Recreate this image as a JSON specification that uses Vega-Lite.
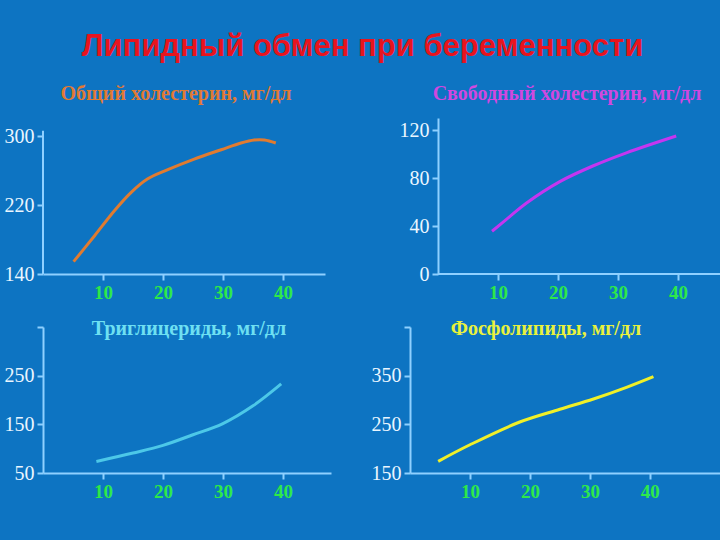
{
  "$schema": "https://vega.github.io/schema/vega-lite/v6.json",
  "background": "#0d74c2",
  "padding": {"left": 4, "top": 31, "right": 0, "bottom": 45},
  "title": {
    "text": "Липидный обмен при беременности",
    "font": "Liberation Sans",
    "fontSize": 31,
    "fontWeight": "bold",
    "color": "#e8141e",
    "anchor": "middle",
    "offset": 21
  },
  "datasets": {
    "total": [
      {"week": 5.1, "value": 154.3}, {"week": 8.6, "value": 184.4}, {"week": 11.9, "value": 213.4},
      {"week": 14.7, "value": 234.7}, {"week": 17.4, "value": 250.1}, {"week": 20.8, "value": 261},
      {"week": 25.2, "value": 273.3}, {"week": 29.7, "value": 284.1}, {"week": 33, "value": 291.9},
      {"week": 35.2, "value": 295.4}, {"week": 36.9, "value": 295.4}, {"week": 38.8, "value": 291.9}
    ],
    "free": [
      {"week": 9, "value": 35.6}, {"week": 12, "value": 48}, {"week": 14.7, "value": 59},
      {"week": 20.3, "value": 77}, {"week": 25.8, "value": 90}, {"week": 31.4, "value": 101},
      {"week": 39.7, "value": 115}
    ],
    "tg": [
      {"week": 8.9, "value": 73.8}, {"week": 15, "value": 91}, {"week": 20, "value": 106.7},
      {"week": 25, "value": 128.6}, {"week": 29.9, "value": 151}, {"week": 35, "value": 188},
      {"week": 39.7, "value": 233}
    ],
    "phos": [
      {"week": 4.7, "value": 174}, {"week": 10, "value": 208}, {"week": 18.3, "value": 254.8},
      {"week": 25, "value": 281}, {"week": 30.6, "value": 302}, {"week": 36.1, "value": 326},
      {"week": 40.6, "value": 348}
    ]
  },
  "columns": 2,
  "spacing": {"row": 53, "column": 79},
  "bounds": "flush",
  "align": "each",
  "concat": [
    {
      "title": {"text": "Общий холестерин, мг/дл", "color": "#e07a34", "font": "Liberation Serif", "fontSize": 20, "fontWeight": "bold", "anchor": "middle", "offset": 14, "dx": -8},
      "width": 282,
      "height": 156,
      "data": {"name": "total"},
      "layer": [
        {
          "data": {"values": [{}]},
          "mark": {"type": "rule", "color": "#8fd0ff", "strokeWidth": 2},
          "encoding": {
            "x": {"datum": 0, "type": "quantitative"},
            "y": {"datum": 140, "type": "quantitative"},
            "y2": {"datum": 306}
          }
        },
        {
          "mark": {"type": "line", "color": "#e07b30", "strokeWidth": 3, "interpolate": "catmull-rom"},
          "encoding": {
            "x": {"field": "week", "type": "quantitative", "scale": {"domain": [0, 47], "nice": false, "zero": false}, "axis": {"title": null, "values": [10, 20, 30, 40]}},
            "y": {"field": "value", "type": "quantitative", "scale": {"domain": [140, 320.9], "nice": false, "zero": false}, "axis": {"title": null, "values": [140, 220, 300], "domain": false}}
          }
        }
      ]
    },
    {
      "title": {"text": "Свободный холестерин, мг/дл", "color": "#d048e0", "font": "Liberation Serif", "fontSize": 20, "fontWeight": "bold", "anchor": "middle", "offset": 14, "dx": 2},
      "width": 310,
      "height": 156,
      "data": {"name": "free"},
      "layer": [
        {
          "data": {"values": [{}]},
          "mark": {"type": "rule", "color": "#8fd0ff", "strokeWidth": 2},
          "encoding": {
            "x": {"datum": 0, "type": "quantitative"},
            "x2": {"datum": 47},
            "y": {"datum": 0, "type": "quantitative"}
          }
        },
        {
          "mark": {"type": "line", "color": "#c436f0", "strokeWidth": 3, "interpolate": "catmull-rom"},
          "encoding": {
            "x": {"field": "week", "type": "quantitative", "scale": {"domain": [-4.67, 47], "nice": false, "zero": false}, "axis": {"title": null, "values": [10, 20, 30, 40], "domain": false}},
            "y": {"field": "value", "type": "quantitative", "scale": {"domain": [0, 130], "nice": false, "zero": false}, "axis": {"title": null, "values": [0, 40, 80, 120], "offset": -28}}
          }
        }
      ]
    },
    {
      "title": {"text": "Триглицериды, мг/дл", "color": "#6ee0f2", "font": "Liberation Serif", "fontSize": 20, "fontWeight": "bold", "anchor": "middle", "offset": -13, "dx": 2},
      "width": 288,
      "height": 146,
      "data": {"name": "tg"},
      "mark": {"type": "line", "color": "#4cc8e8", "strokeWidth": 3, "interpolate": "catmull-rom"},
      "encoding": {
        "x": {"field": "week", "type": "quantitative", "scale": {"domain": [0, 48], "nice": false, "zero": false}, "axis": {"title": null, "values": [10, 20, 30, 40]}},
        "y": {"field": "value", "type": "quantitative", "scale": {"domain": [50, 350], "nice": false, "zero": false}, "axis": {"title": null, "values": [50, 150, 250, 350], "labelExpr": "datum.value == 350 ? '' : datum.label"}}
      }
    },
    {
      "title": {"text": "Фосфолипиды, мг/дл", "color": "#e8f23c", "font": "Liberation Serif", "fontSize": 20, "fontWeight": "bold", "anchor": "middle", "offset": -13, "dx": -19},
      "width": 310,
      "height": 146,
      "data": {"name": "phos"},
      "mark": {"type": "line", "color": "#f0f028", "strokeWidth": 3, "interpolate": "catmull-rom"},
      "encoding": {
        "x": {"field": "week", "type": "quantitative", "scale": {"domain": [0, 51.7], "nice": false, "zero": false}, "axis": {"title": null, "values": [10, 20, 30, 40]}},
        "y": {"field": "value", "type": "quantitative", "scale": {"domain": [150, 450], "nice": false, "zero": false}, "axis": {"title": null, "values": [150, 250, 350, 450], "labelExpr": "datum.value == 450 ? '' : datum.label"}}
      }
    }
  ],
  "config": {
    "view": {"stroke": null},
    "axis": {"grid": false, "domainColor": "#8fd0ff", "domainWidth": 2, "tickColor": "#8fd0ff", "tickWidth": 2, "tickSize": 6},
    "axisX": {"labelColor": "#2ee84a", "labelFont": "Liberation Serif", "labelFontSize": 19, "labelFontWeight": "bold", "labelPadding": 3},
    "axisY": {"labelColor": "#eaf6ff", "labelFont": "Liberation Serif", "labelFontSize": 20, "labelPadding": 3}
  }
}
